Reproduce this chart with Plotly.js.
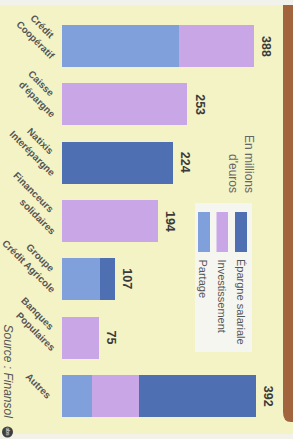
<!DOCTYPE html>
<html>
<head>
<meta charset="utf-8">
<script src="https://cdn.plot.ly/plotly-3.0.1.min.js"></script>
<style>html,body{margin:0;padding:0;background:#f3f3c6;}#chart{width:293px;height:439px;}</style>
</head>
<body>
<div id="chart"></div>
<script>
// ---- data ----
const categories = ["Crédit Coopératif", "Caisse d'épargne", "Natixis Interépargne", "Financeurs solidaires", "Groupe Crédit Agricole", "Banques Populaires", "Autres"];
const labelLines = [["Crédit", "Coopératif"], ["Caisse", "d'épargne"], ["Natixis", "Interépargne"], ["Financeurs", "solidaires"], ["Groupe", "Crédit Agricole"], ["Banques", "Populaires"], ["Autres"]];
const partage = [237, 0, 0, 0, 77, 0, 60];
const investissement = [151, 253, 0, 194, 0, 75, 96];
const epargne = [0, 0, 224, 0, 30, 0, 236];
const totals = [388, 253, 224, 194, 107, 75, 392];
const seriesNames = ["Épargne salariale", "Investissement", "Partage"];
const unitLabel = "En millions<br>d'euros";
const sourceLabel = "Source : Finansol";

// ---- geometry helpers (pixels -> paper) ----
const W = 293, H = 439, ML = 62, MR = 31, MT = 17, MB = 14;
const PW = W - ML - MR, PH = H - MT - MB;
const X = px => (px - ML) / PW;
const Y = py => (H - MB - py) / PH;

const cLight = '#7fa0db', cLilac = '#c9a6e6', cDark = '#4e6fb1';
const grey = '#555555';

const traces = [
  {type: 'bar', orientation: 'h', y: categories, x: partage, name: seriesNames[2], marker: {color: cLight, line: {width: 0}}, hoverinfo: 'skip'},
  {type: 'bar', orientation: 'h', y: categories, x: investissement, name: seriesNames[1], marker: {color: cLilac, line: {width: 0}}, hoverinfo: 'skip'},
  {type: 'bar', orientation: 'h', y: categories, x: epargne, name: seriesNames[0], marker: {color: cDark, line: {width: 0}}, hoverinfo: 'skip'}
];

const annotations = [];
// value labels
categories.forEach((c, i) => {
  annotations.push({xref: 'x', yref: 'y', x: totals[i], y: c, text: '<b>' + totals[i] + '</b>', textangle: 90,
    xanchor: 'left', yanchor: 'middle', xshift: 3, showarrow: false,
    font: {family: 'Liberation Sans, Arial, sans-serif', size: 12.5, color: '#3a3a3a'}});
});
// category labels (each line anchored at its end)
categories.forEach((c, i) => {
  const lines = labelLines[i];
  lines.forEach((ln, j) => {
    let ex, dy;
    if (lines.length === 1) { ex = 53; dy = 4; }
    else if (j === 0) { ex = 55; dy = -7; }
    else { ex = 56.5; dy = 14; }
    annotations.push({xref: 'paper', yref: 'y', x: X(ex + 4.3), y: c, text: '<b>' + ln + '</b>', textangle: 45,
      xanchor: 'right', yanchor: 'bottom', yshift: -(dy + 4.3), showarrow: false,
      font: {family: 'Liberation Sans, Arial, sans-serif', size: 9.8, color: grey}});
  });
});
// unit label
annotations.push({xref: 'paper', yref: 'paper', x: X(241), y: Y(195), text: unitLabel, textangle: 90, align: 'right',
  xanchor: 'center', yanchor: 'bottom', showarrow: false,
  font: {family: 'Liberation Sans, Arial, sans-serif', size: 12, color: '#666666'}});
// legend texts
const legX = [241, 222, 203];
seriesNames.forEach((n, k) => {
  annotations.push({xref: 'paper', yref: 'paper', x: X(legX[k]), y: Y(257), text: n, textangle: 90,
    xanchor: 'center', yanchor: 'top', showarrow: false,
    font: {family: 'Liberation Sans, Arial, sans-serif', size: 11, color: grey}});
});
// source
annotations.push({xref: 'paper', yref: 'paper', x: X(7.5), y: Y(372), text: '<i>' + sourceLabel + '</i>', textangle: 90,
  xanchor: 'center', yanchor: 'middle', showarrow: false,
  font: {family: 'Liberation Sans, Arial, sans-serif', size: 12, color: grey}});
annotations.push({xref: 'paper', yref: 'paper', x: X(7.5), y: Y(432), text: 'obs', textangle: 90,
  xanchor: 'center', yanchor: 'middle', showarrow: false,
  font: {family: 'Liberation Sans, Arial, sans-serif', size: 5, color: '#ffffff'}});

const shapes = [
  // top and bottom page strips
  {type: 'rect', xref: 'paper', yref: 'paper', x0: X(0), x1: X(W), y0: Y(0), y1: Y(5), fillcolor: '#f2f2ec', line: {width: 0}, layer: 'below'},
  {type: 'rect', xref: 'paper', yref: 'paper', x0: X(0), x1: X(W), y0: Y(434), y1: Y(H), fillcolor: '#f2f2ea', line: {width: 0}, layer: 'below'},
  // brown side strip with rounded bottom-left corner
  {type: 'path', xref: 'paper', yref: 'paper',
    path: `M ${X(283)},${Y(5)} L ${X(283)},${Y(412)} Q ${X(283)},${Y(422)} ${X(291)},${Y(422)} L ${X(293)},${Y(422)} L ${X(293)},${Y(5)} Z`,
    fillcolor: '#a2643c', line: {width: 0}, layer: 'below'},
  // legend box
  {type: 'rect', xref: 'paper', yref: 'paper', x0: X(195), x1: X(252), y0: Y(203), y1: Y(352), fillcolor: '#f6f6f1', line: {width: 0}, layer: 'below'},
  {type: 'rect', xref: 'paper', yref: 'paper', x0: X(235), x1: X(247), y0: Y(212), y1: Y(252), fillcolor: cDark, line: {width: 0}},
  {type: 'rect', xref: 'paper', yref: 'paper', x0: X(216.5), x1: X(228), y0: Y(212), y1: Y(252), fillcolor: cLilac, line: {width: 0}},
  {type: 'rect', xref: 'paper', yref: 'paper', x0: X(198), x1: X(210), y0: Y(212), y1: Y(252), fillcolor: cLight, line: {width: 0}},
  // logo circle
  {type: 'circle', xref: 'paper', yref: 'paper', x0: X(2), x1: X(13), y0: Y(426.5), y1: Y(437.5), fillcolor: '#3e3e3e', line: {width: 0}}
];

const layout = {
  width: W, height: H,
  margin: {l: ML, r: MR, t: MT, b: MB, pad: 0},
  paper_bgcolor: '#f3f3c6', plot_bgcolor: 'rgba(0,0,0,0)',
  barmode: 'stack', bargap: 0.28, showlegend: false,
  xaxis: {range: [0, 404], visible: false, fixedrange: true},
  yaxis: {autorange: 'reversed', visible: false, type: 'category', fixedrange: true},
  annotations: annotations, shapes: shapes
};

Plotly.newPlot('chart', traces, layout, {displayModeBar: false, staticPlot: true});
</script>
</body>
</html>
